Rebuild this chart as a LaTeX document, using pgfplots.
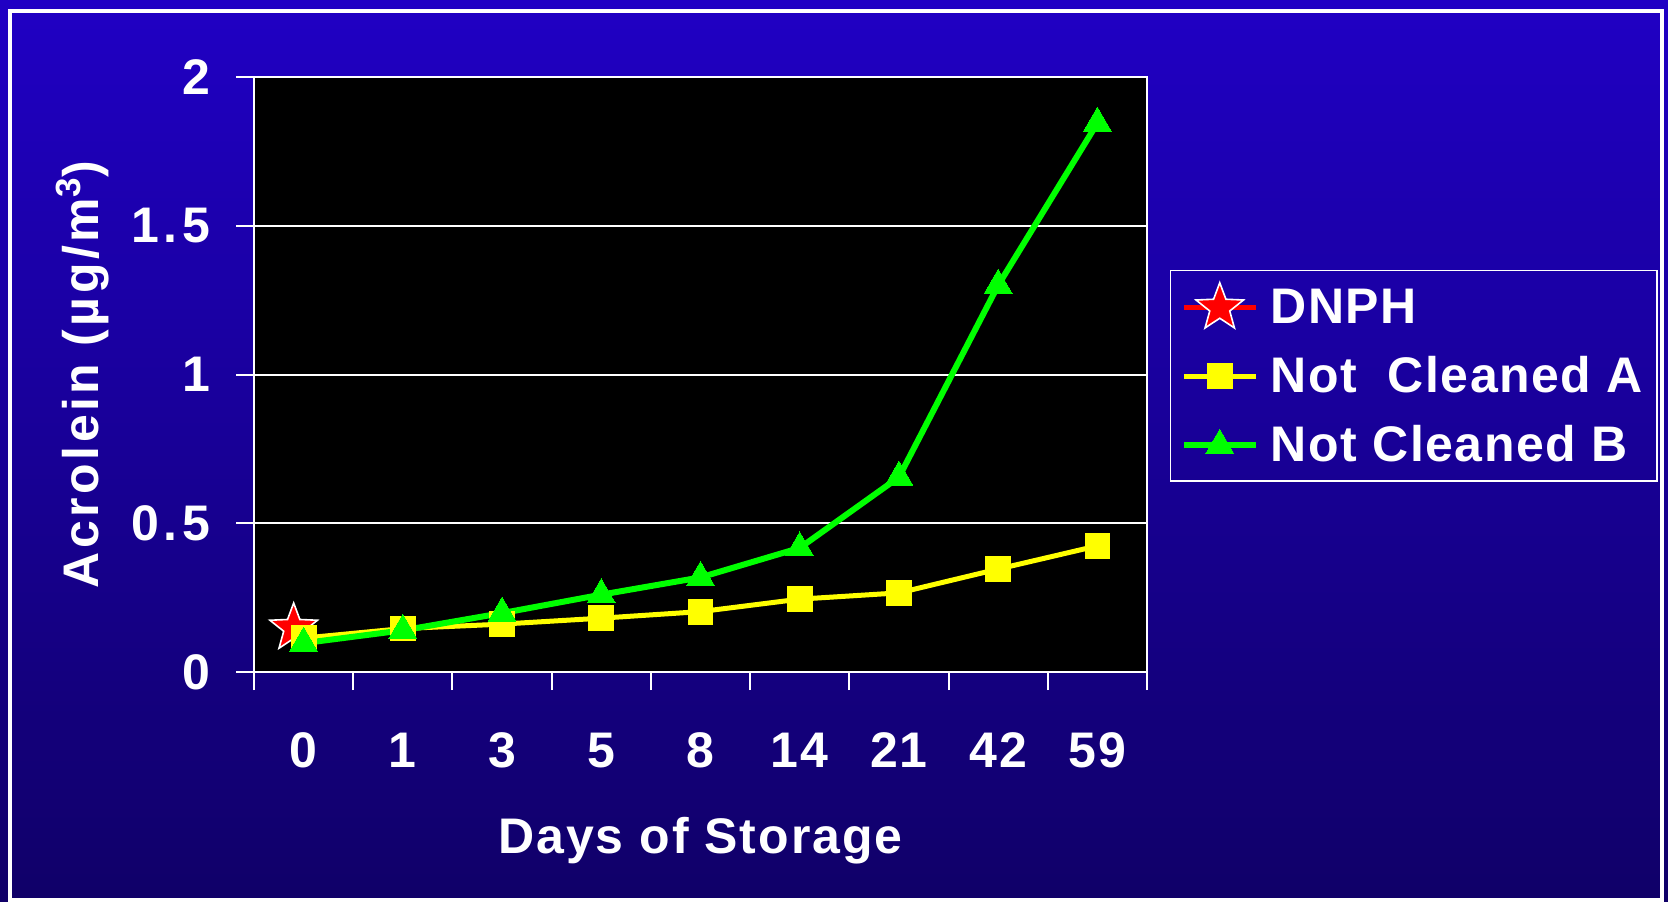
\documentclass[border=0pt]{standalone}
\usepackage{fontspec}
\setmainfont{Liberation Sans}[LetterSpace=4]
\usepackage{pgfplots}
\pgfplotsset{compat=1.18}
\definecolor{bgtop}{RGB}{32,0,196}
\definecolor{bgbot}{RGB}{16,0,104}
\definecolor{myyellow}{RGB}{255,255,0}
\definecolor{mygreen}{RGB}{0,255,0}
\pgfdeclareplotmark{fivestar}{%
  \pgfpathmoveto{\pgfpointpolar{90}{\pgfplotmarksize}}%
  \pgfpathlineto{\pgfpointpolar{126}{0.42\pgfplotmarksize}}%
  \pgfpathlineto{\pgfpointpolar{162}{\pgfplotmarksize}}%
  \pgfpathlineto{\pgfpointpolar{198}{0.42\pgfplotmarksize}}%
  \pgfpathlineto{\pgfpointpolar{234}{\pgfplotmarksize}}%
  \pgfpathlineto{\pgfpointpolar{270}{0.42\pgfplotmarksize}}%
  \pgfpathlineto{\pgfpointpolar{306}{\pgfplotmarksize}}%
  \pgfpathlineto{\pgfpointpolar{342}{0.42\pgfplotmarksize}}%
  \pgfpathlineto{\pgfpointpolar{18}{\pgfplotmarksize}}%
  \pgfpathlineto{\pgfpointpolar{54}{0.42\pgfplotmarksize}}%
  \pgfpathclose
  \pgfusepathqfillstroke}
\begin{document}
\begin{tikzpicture}
\useasboundingbox (0,0) rectangle (834pt,450.5pt);
\shade[top color=bgtop, bottom color=bgbot] (0,0) rectangle (834pt,450.5pt);
\draw[white, line width=2pt] (5pt,0.5pt) rectangle (831pt,445pt);
\begin{axis}[
  at={(127pt,114.5pt)}, anchor=south west,
  scale only axis, width=446.5pt, height=297.5pt,
  axis background/.style={fill=black},
  font=\fontsize{25}{29}\selectfont\bfseries,
  xmin=-0.5, xmax=8.5, ymin=0, ymax=2,
  xtick={0,...,8},
  xticklabels={0,1,3,5,8,14,21,42,59},
  minor xtick={-0.5,0.5,...,8.5},
  major x tick style={draw=none},
  minor tick length=9pt,
  major tick length=9pt,
  tick align=outside,
  xtick pos=bottom, ytick pos=left,
  ytick={0,0.5,1,1.5,2},
  yticklabels={0,0.5,1,1.5,2},
  ymajorgrids,
  grid style={white, line width=1pt},
  tick style={white, line width=1pt},
  axis line style={white, line width=1pt},
  ticklabel style={white},
  yticklabel style={anchor=east, xshift=-9.5pt, font=\fontsize{25}{29}\selectfont\bfseries\addfontfeature{LetterSpace=9}},
  xticklabel style={yshift=-18pt},
  every axis x label/.style={at={(axis description cs:0.5,-0.283)}, anchor=center},
  every axis y label/.style={at={(axis description cs:-0.1915,0.5)}, rotate=90, anchor=center},
  label style={white},
  xlabel={Days of Storage},
  ylabel={\addfontfeature{LetterSpace=7}Acrolein (µg/m\textsuperscript{3})},
  legend style={at={(axis description cs:1.0258,0.6756)}, anchor=north west,
    fill=none, draw=white, line width=0.7pt, text=white,
    font=\fontsize{25}{29}\selectfont\bfseries\addfontfeature{LetterSpace=3},
    row sep=11pt, inner xsep=5pt, inner ysep=6pt,
    /tikz/every odd column/.append style={column sep=4pt}},
  legend cell align=left,
  legend image code/.code={%
    \draw[mark repeat=2,mark phase=2,#1] plot coordinates {(0pt,0pt) (18pt,0pt) (36pt,0pt)};},
]
\addplot[red, line width=2.5pt, mark=fivestar, mark size=12.5pt,
  mark options={fill=red, draw=white, line width=0.8pt}]
  coordinates {(-0.1,0.148)};
\addlegendentry{DNPH}
\addplot[myyellow, line width=2.5pt, mark=square*, mark size=6.2pt,
  mark options={fill=myyellow, draw=myyellow, line width=0pt}]
  coordinates {(0,0.114) (1,0.146) (2,0.161) (3,0.181) (4,0.203) (5,0.245) (6,0.266) (7,0.346) (8,0.424)};
\addlegendentry{Not\ \ Cleaned A}
\addplot[mygreen, line width=3pt, mark=triangle*, mark size=8pt,
  mark options={fill=mygreen, draw=mygreen, line width=0pt}]
  coordinates {(0,0.097) (1,0.140) (2,0.198) (3,0.260) (4,0.318) (5,0.417) (6,0.655) (7,1.300) (8,1.845)};
\addlegendentry{Not Cleaned B}
\end{axis}
\end{tikzpicture}
\end{document}
